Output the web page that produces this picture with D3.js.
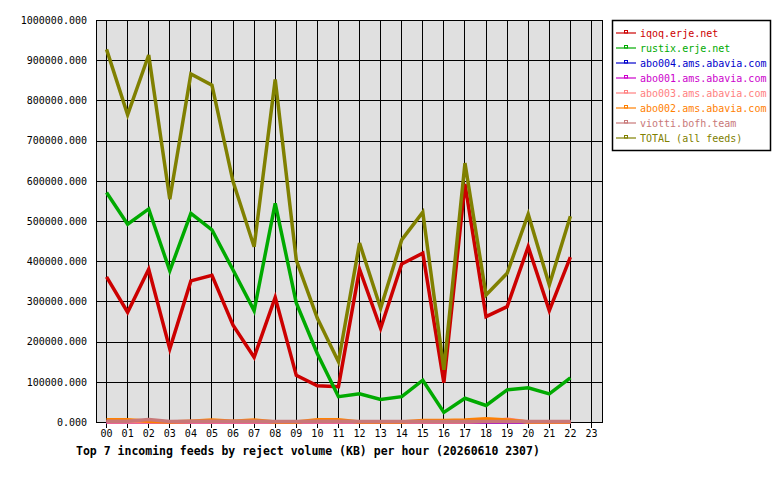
<!DOCTYPE html>
<html lang="en">
<head>
<meta charset="UTF-8">
<title>Top 7 incoming feeds by reject volume</title>
<script src="https://cdn.jsdelivr.net/npm/d3@7"></script>
<style>
  body { margin: 0; background: #ffffff; }
  text { font-family: "DejaVu Sans Mono", "Liberation Mono", monospace; }
</style>
</head>
<body>
<svg id="chart" width="780" height="480"></svg>
<script>

let hours = ['00','01','02','03','04','05','06','07','08','09','10','11',
             '12','13','14','15','16','17','18','19','20','21','22','23'];

let yTicks = [0,100000,200000,300000,400000,500000,600000,700000,800000,900000,1000000];

let feedNames = ['iqoq.erje.net','rustix.erje.net','abo004.ams.abavia.com','abo001.ams.abavia.com',
                 'abo003.ams.abavia.com','abo002.ams.abavia.com','viotti.bofh.team','TOTAL (all feeds)'];

let feedColours = ['#cc0000','#00aa00','#0000cc','#cc00cc','#ff8080','#ff8000','#c87878','#808000'];

// KB per hour, hours 00..22
let iqoq    = [361000,273000,380000,182000,351000,365000,241000,161000,310000,116000,90000,88000,
               380000,233000,393000,420000,98000,592000,262000,287000,436000,277000,410000];
let rustix  = [571000,492000,530000,376000,519000,478000,378000,277000,544000,296000,170000,63000,
               70000,56000,63000,104000,24000,59000,41000,80000,85000,70000,110000];
let abo004  = [0,0,0,0,0,0,0,0,0,0,0,0,0,0,0,0,0,0,0,0,0,0,0];
let abo001  = [0,0,0,0,0,0,0,0,0,0,0,0,0,0,0,0,0,0,0,0,0,0,0];
let abo003  = [0,0,0,0,0,0,0,0,0,0,0,0,0,0,0,0,0,0,2000,7000,0,0,0];
let abo002  = [5500,5500,2000,0,2000,5000,2000,5000,0,0,5500,5500,0,0,0,4000,4000,5000,8000,5000,0,0,0];
let viotti  = [2000,2000,6500,1000,2000,2000,2000,2000,1000,1000,2000,2000,1000,1000,1000,1000,1000,1000,
               1000,1000,1000,1000,1000];
let total   = [927000,764000,913000,554000,866000,838000,598000,436000,852000,403000,258000,150000,
               445000,283000,453000,522000,130000,644000,316000,370000,517000,341000,512000];

let series = [iqoq, rustix, abo004, abo001, abo003, abo002, viotti, total];

let svg = d3.select('#chart');
let plotLeft = 96, plotRight = 602, plotTop = 20, plotBottom = 422;

let x = d3.scaleBand().domain(hours).range([plotLeft, plotRight]);
let xc = function(h) { return x(h) + x.bandwidth() / 2; };
let y = d3.scaleLinear().domain([0, 1000000]).range([plotBottom, plotTop]);

svg.append('rect')
    .attr('x', plotLeft).attr('y', plotTop)
    .attr('width', plotRight - plotLeft).attr('height', plotBottom - plotTop)
    .style('fill', '#e0e0e0');

// horizontal grid + labels
let yAxis = svg.append('g')
    .attr('transform', 'translate(' + plotLeft + ',0)')
    .call(d3.axisLeft(y).tickValues(yTicks).tickFormat(d3.format('.3f'))
        .tickSize(-(plotRight - plotLeft)).tickPadding(9));
yAxis.select('.domain').remove();
yAxis.selectAll('line').style('stroke', '#000').style('stroke-width', 1)
    .style('shape-rendering', 'crispEdges');
yAxis.selectAll('text').style('font-size', '10px').style('fill', '#000')
    .attr('font-family', '"DejaVu Sans Mono", monospace');

// vertical grid + labels
let xAxis = svg.append('g')
    .attr('transform', 'translate(0,' + plotBottom + ')')
    .call(d3.axisBottom(x).tickSizeInner(6).tickSizeOuter(0).tickPadding(2));
xAxis.select('.domain').remove();
xAxis.selectAll('line').attr('y2', -(plotBottom - plotTop)).attr('y1', 6)
    .style('stroke', '#000').style('stroke-width', 1)
    .style('shape-rendering', 'crispEdges');
xAxis.selectAll('text').style('font-size', '10px').style('fill', '#000')
    .attr('font-family', '"DejaVu Sans Mono", monospace');

svg.append('rect')
    .attr('x', plotLeft).attr('y', plotTop)
    .attr('width', plotRight - plotLeft).attr('height', plotBottom - plotTop)
    .style('fill', 'none').style('stroke', '#000').style('stroke-width', 1)
    .style('shape-rendering', 'crispEdges');

let line = d3.line()
    .x(function(d, i) { return xc(hours[i]); })
    .y(function(d) { return y(d); });

series.forEach(function(s, k) {
  svg.append('path')
      .datum(s)
      .attr('d', line)
      .style('fill', 'none')
      .style('stroke', feedColours[k])
      .style('stroke-width', 3.5)
      .style('stroke-linejoin', 'miter');
});

// legend
let legend = svg.append('g');
legend.append('rect')
    .attr('x', 612.5).attr('y', 20.5).attr('width', 158).attr('height', 130)
    .style('fill', '#fff').style('stroke', '#000').style('stroke-width', 1.5);

feedNames.forEach(function(name, k) {
  let ly = 33 + k * 15;
  legend.append('line')
      .attr('x1', 616).attr('x2', 636).attr('y1', ly).attr('y2', ly)
      .style('stroke', feedColours[k]).style('stroke-width', 1.2);
  legend.append('rect')
      .attr('x', 624.5).attr('y', ly - 2.5).attr('width', 3).attr('height', 2.5)
      .style('fill', 'none').style('stroke', feedColours[k]).style('stroke-width', 1);
  legend.append('text')
      .attr('x', 640).attr('y', ly)
      .attr('dominant-baseline', 'central')
      .style('font-size', '10px')
      .style('fill', feedColours[k])
      .text(name);
});

svg.append('text')
    .attr('x', 76).attr('y', 455)
    .style('font-size', '11.5px').style('font-weight', 'bold').style('fill', '#000')
    .text('Top 7 incoming feeds by reject volume (KB) per hour (20260610 2307)');

</script>
</body>
</html>
